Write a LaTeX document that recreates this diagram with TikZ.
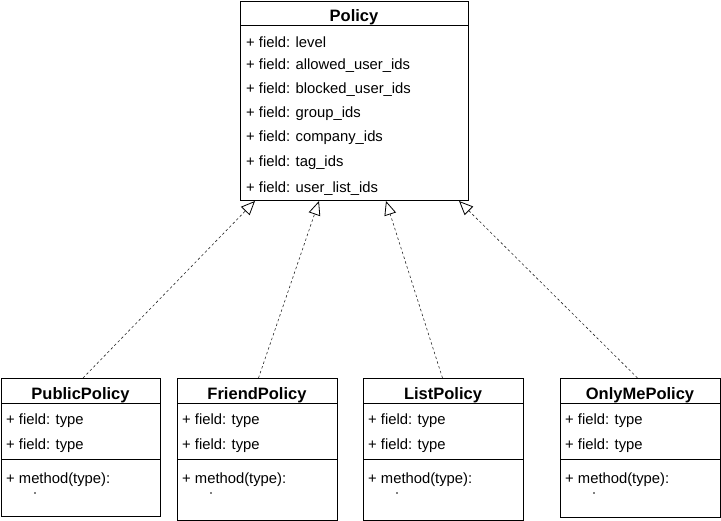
\documentclass[tikz,border=0pt]{standalone}
\usepackage{fontspec}
\setmainfont{Liberation Sans}
\usetikzlibrary{arrows.meta,calc}
\tikzset{
  box/.style={draw=black, line width=1pt, minimum height=#1, anchor=north west, inner sep=0pt},
  title/.style={font=\fontsize{16.5}{18}\selectfont\bfseries, anchor=center, inner sep=0pt},
  item/.style={font=\fontsize{14.8}{16}\selectfont, anchor=west, inner sep=0pt},
  sep/.style={draw=black, line width=1pt},
  realize/.style={draw=black!85, line width=0.6pt, dash pattern=on 2.5pt off 2.5pt,
    -{Triangle[open, length=14pt, width=12pt, line width=0.8pt, black]}}
}
\begin{document}
\begin{tikzpicture}[x=1pt, y=-1pt]
\useasboundingbox (0,0) rectangle (721,521);
% Policy
\node[box=199pt, minimum width=228pt] (policy) at (240,1) {};
\node[title] (policyt) at (354,17) {Policy};
\draw[sep] (240,26) -- (468,26);
\node[item] (p1) at (246,42) {+ field: level};
\node[item] (p2) at (246,66) {+ field: allowed\_user\_ids};
\node[item] (p3) at (246,90) {+ field: blocked\_user\_ids};
\node[item] (p4) at (246,114) {+ field: group\_ids};
\node[item] (p5) at (246,138) {+ field: company\_ids};
\node[item] (p6) at (246,163) {+ field: tag\_ids};
\node[item] (p7) at (246,189) {+ field: user\_list\_ids};
% bottom classes
\foreach \nm/\lbl/\xa/\w/\h in {pub/PublicPolicy/1/159/138, fri/FriendPolicy/177/160/142, lst/ListPolicy/363/160/142, onl/OnlyMePolicy/560/160/139}{
  \node[box=\h pt, minimum width=\w pt] (\nm) at (\xa,378) {};
  \node[title] (\nm t) at (\xa+\w/2,395) {\lbl};
  \draw[sep] (\xa,404) -- (\xa+\w,404);
  \node[item] (\nm f1) at (\xa+5,421) {+ field: type};
  \node[item] (\nm f2) at (\xa+5,446) {+ field: type};
  \draw[sep] (\xa,460) -- (\xa+\w,460);
  \node[item] (\nm m) at (\xa+5,480) {+ method(type):};
  \fill[black] (\xa+34,493) circle (0.9pt);
}
% connectors
\coordinate (t1) at ($(policy.south west)+(15,0)$);
\coordinate (t2) at ($(policy.south west)+(79,0)$);
\coordinate (t3) at ($(policy.south west)+(146,0)$);
\coordinate (t4) at ($(policy.south west)+(219,0)$);
\draw[realize] ($(pub.north)+(2,0)$) -- (t1);
\draw[realize] ($(fri.north)+(1,0)$) -- (t2);
\draw[realize] ($(lst.north)+(-1,0)$) -- (t3);
\draw[realize] ($(onl.north)+(-3,0)$) -- (t4);
\end{tikzpicture}
\end{document}
